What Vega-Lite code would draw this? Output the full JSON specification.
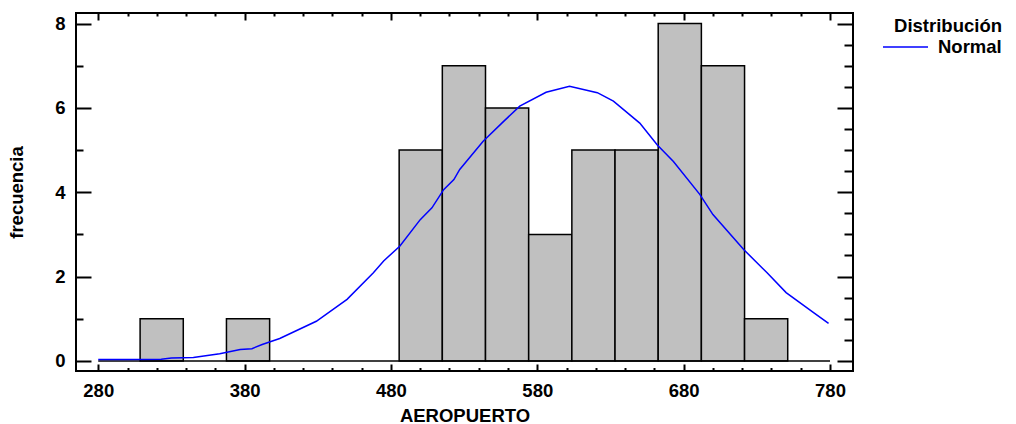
{
  "$schema": "https://vega.github.io/schema/vega-lite/v6.json",
  "width": 777,
  "height": 358,
  "autosize": {"type": "none"},
  "padding": {"left": 76, "top": 13, "right": 163, "bottom": 53},
  "background": "white",
  "config": {
    "view": {"stroke": "black", "strokeWidth": 2},
    "font": "Liberation Sans",
    "axis": {
      "grid": false,
      "domain": false,
      "tickColor": "black",
      "tickWidth": 2,
      "labelColor": "black",
      "labelFont": "Liberation Sans",
      "labelFontWeight": "bold",
      "labelFontSize": 18.5,
      "titleFont": "Liberation Sans",
      "titleFontWeight": "bold",
      "titleFontSize": 18.5,
      "titleColor": "black",
      "labelOverlap": false,
      "labelFlush": false
    },
    "legend": {
      "titleFont": "Liberation Sans",
      "titleFontWeight": "bold",
      "titleFontSize": 18.5,
      "titleColor": "black",
      "labelFont": "Liberation Sans",
      "labelFontWeight": "bold",
      "labelFontSize": 18.5,
      "labelColor": "black"
    }
  },
  "datasets": {
    "bins": [
      {"start": 308.6, "end": 338.1, "count": 1},
      {"start": 367.6, "end": 397.1, "count": 1},
      {"start": 485.6, "end": 515.1, "count": 5},
      {"start": 515.1, "end": 544.6, "count": 7},
      {"start": 544.6, "end": 574.1, "count": 6},
      {"start": 574.1, "end": 603.6, "count": 3},
      {"start": 603.6, "end": 633.1, "count": 5},
      {"start": 633.1, "end": 662.6, "count": 5},
      {"start": 662.6, "end": 692.1, "count": 8},
      {"start": 692.1, "end": 721.6, "count": 7},
      {"start": 721.6, "end": 751.1, "count": 1}
    ],
    "base": [{"from": 280, "to": 780, "level": 0}],
    "curve": [
      {"x": 280, "y": 0.03},
      {"x": 300, "y": 0.03},
      {"x": 323, "y": 0.04},
      {"x": 330, "y": 0.07},
      {"x": 345, "y": 0.08},
      {"x": 363, "y": 0.17},
      {"x": 377, "y": 0.27},
      {"x": 385, "y": 0.29},
      {"x": 392, "y": 0.39},
      {"x": 404, "y": 0.53},
      {"x": 429, "y": 0.94},
      {"x": 450, "y": 1.46},
      {"x": 468, "y": 2.09},
      {"x": 475, "y": 2.37},
      {"x": 486, "y": 2.72},
      {"x": 500, "y": 3.35},
      {"x": 508, "y": 3.63},
      {"x": 516, "y": 4.06},
      {"x": 523, "y": 4.30},
      {"x": 527, "y": 4.54},
      {"x": 543, "y": 5.21},
      {"x": 557, "y": 5.68},
      {"x": 568, "y": 6.04},
      {"x": 586, "y": 6.37},
      {"x": 602, "y": 6.51},
      {"x": 621, "y": 6.36},
      {"x": 632, "y": 6.16},
      {"x": 650, "y": 5.64},
      {"x": 662, "y": 5.12},
      {"x": 673, "y": 4.73},
      {"x": 691, "y": 3.95},
      {"x": 700, "y": 3.47},
      {"x": 721, "y": 2.64},
      {"x": 737, "y": 2.09},
      {"x": 750, "y": 1.62},
      {"x": 769, "y": 1.14},
      {"x": 779, "y": 0.89}
    ]
  },
  "resolve": {"axis": {"x": "independent", "y": "independent"}},
  "layer": [
    {
      "data": {"name": "bins"},
      "mark": {"type": "rect", "fill": "#c0c0c0", "stroke": "black", "strokeWidth": 1.5},
      "encoding": {
        "x": {
          "field": "start", "type": "quantitative",
          "scale": {"domain": [264.8, 795.7], "nice": false, "zero": false},
          "axis": {
            "orient": "bottom",
            "title": "AEROPUERTO",
            "titlePadding": 3,
            "format": "d",
            "values": [280,300,320,340,360,380,400,420,440,460,480,500,520,540,560,580,600,620,640,660,680,700,720,740,760,780],
            "labelExpr": "datum.value % 100 === 80 ? datum.label : ''",
            "tickSize": {"condition": {"test": "datum.value % 100 === 80", "value": -7}, "value": -3.5},
            "labelPadding": 17
          }
        },
        "x2": {"field": "end"},
        "y": {
          "field": "count", "type": "quantitative",
          "scale": {"domain": [-0.24, 8.25], "nice": false, "zero": false},
          "axis": {
            "orient": "left",
            "title": "frecuencia",
            "titlePadding": 28,
            "format": "d",
            "values": [0,0.5,1,1.5,2,2.5,3,3.5,4,4.5,5,5.5,6,6.5,7,7.5,8],
            "labelExpr": "datum.value % 2 === 0 ? datum.label : ''",
            "tickSize": {"condition": {"test": "datum.value % 2 === 0", "value": -15}, "value": -7},
            "labelPadding": 26
          }
        },
        "y2": {"datum": 0}
      }
    },
    {
      "data": {"name": "base"},
      "mark": {"type": "rule", "color": "black", "strokeWidth": 1.5},
      "encoding": {
        "x": {"field": "from", "type": "quantitative", "scale": {"domain": [264.8, 795.7], "nice": false, "zero": false}, "axis": null},
        "x2": {"field": "to"},
        "y": {"field": "level", "type": "quantitative", "scale": {"domain": [-0.24, 8.25], "nice": false, "zero": false}, "axis": null}
      }
    },
    {
      "data": {"name": "curve"},
      "mark": {"type": "line", "strokeWidth": 1.5, "interpolate": "linear"},
      "encoding": {
        "x": {
          "field": "x", "type": "quantitative",
          "scale": {"domain": [264.8, 795.7], "nice": false, "zero": false},
          "axis": {
            "orient": "top",
            "title": null,
            "values": [280,300,320,340,360,380,400,420,440,460,480,500,520,540,560,580,600,620,640,660,680,700,720,740,760,780],
            "labels": false,
            "tickSize": {"condition": {"test": "datum.value % 100 === 80", "value": -7}, "value": -3}
          }
        },
        "y": {
          "field": "y", "type": "quantitative",
          "scale": {"domain": [-0.24, 8.25], "nice": false, "zero": false},
          "axis": {
            "orient": "right",
            "title": null,
            "values": [0,0.5,1,1.5,2,2.5,3,3.5,4,4.5,5,5.5,6,6.5,7,7.5,8],
            "labels": false,
            "tickSize": {"condition": {"test": "datum.value % 2 === 0", "value": -16}, "value": -9}
          }
        },
        "color": {
          "datum": "Normal",
          "type": "nominal",
          "scale": {"range": ["#0000ff"]},
          "legend": {
            "title": "Distribución",
            "orient": "right",
            "offset": 24,
            "padding": 4,
            "titleAnchor": "end",
            "titlePadding": -12,
            "symbolType": "stroke",
            "symbolSize": 2025,
            "symbolStrokeWidth": 1.5,
            "labelOffset": 9
          }
        }
      }
    }
  ]
}
